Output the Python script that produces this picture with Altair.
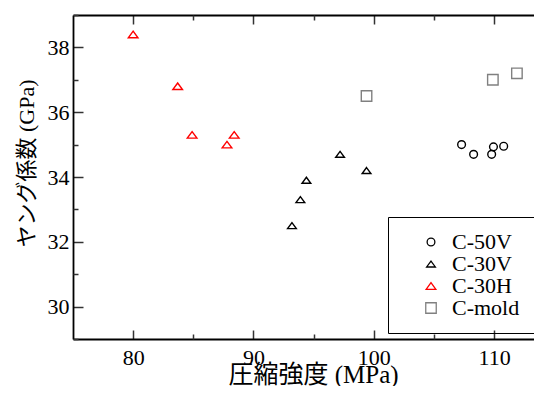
import altair as alt
import pandas as pd

series = ["C-50V", "C-30V", "C-30H", "C-mold"]
colors = ["#000000", "#000000", "#ff0000", "#808080"]

c50v_x = [107.3, 108.3, 109.8, 109.95, 110.8]
c50v_y = [35.0, 34.7, 34.7, 34.93, 34.95]
c30v_x = [93.2, 93.9, 94.4, 97.2, 99.4]
c30v_y = [32.5, 33.3, 33.9, 34.7, 34.2]
c30h_x = [80.0, 83.7, 84.9, 87.8, 88.4]
c30h_y = [38.4, 36.8, 35.3, 35.0, 35.3]
cmold_x = [99.4, 109.9, 111.9]
cmold_y = [36.5, 37.0, 37.2]

x_major = [80, 90, 100, 110]
x_minor = [85, 95, 105]
y_major = [30, 32, 34, 36, 38]
y_minor = [29, 31, 33, 35, 37, 39]

rows = []
for name, xs_, ys_ in [("C-50V", c50v_x, c50v_y), ("C-30V", c30v_x, c30v_y),
                       ("C-30H", c30h_x, c30h_y), ("C-mold", cmold_x, cmold_y)]:
    for a, b in zip(xs_, ys_):
        rows.append({"series": name, "x": a, "y": b})
df = pd.DataFrame(rows)

tri = "M0,-0.68L1,0.68L-1,0.68Z"
shapes = ["circle", tri, tri, "square"]
sizes = [60, 110, 110, 64]

FONT = "'Times New Roman', 'Liberation Serif', 'DejaVu Serif', serif"
TFONT = "'Times New Roman', 'Liberation Serif', 'Noto Sans CJK JP', serif"
xs = alt.Scale(domain=[75, 113.32], nice=False, zero=False)
ys = alt.Scale(domain=[29, 39], nice=False, zero=False)

def ax(orient, values, size, labels=False, domain=False, **kw):
    opts = dict(labelFont=FONT, labelFontSize=22, labelColor="#000000",
                titleFont=TFONT, titleFontSize=22, titleColor="#000000",
                titleFontWeight="normal", domainColor="#000000", domainWidth=1.8,
                tickColor="#333333", tickWidth=1.5)
    opts.update(kw)
    return alt.Axis(orient=orient, values=values, tickSize={"expr": str(-size)},
                    labels=labels, domain=domain, grid=False, **opts)

legend = alt.Legend(title=None, orient="none", legendX=315, legendY=202,
                    strokeColor="#000000", padding=14, symbolOffset=18,
                    labelOffset=10, rowPadding=0, symbolSize=50,
                    symbolStrokeWidth=1.3, labelFontSize=22, labelFont=FONT,
                    labelColor="#000000", symbolFillColor="transparent")

base = alt.Chart(df)

points = base.mark_point(filled=False, strokeWidth=1.4, opacity=1).encode(
    x=alt.X("x:Q", scale=xs, axis=ax("bottom", x_major, 9, labels=True, domain=True,
                                       title="圧縮強度 (MPa)", labelPadding=17,
                                       titleFontSize=25,
                                       titleX=240, titleY=23, titleBaseline="top",
                                       titleAlign="center")),
    y=alt.Y("y:Q", scale=ys, axis=ax("left", y_major, 10, labels=True, domain=True,
                                       title="ヤング係数 (GPa)", labelPadding=14,
                                       titleX=-47, titleY=148, titleBaseline="middle",
                                       titleAlign="center", titleAngle=-90)),
    color=alt.Color("series:N", scale=alt.Scale(domain=series, range=colors), legend=legend),
    shape=alt.Shape("series:N", scale=alt.Scale(domain=series, range=shapes), legend=legend),
    size=alt.Size("series:N", scale=alt.Scale(domain=series, range=sizes), legend=None),
)

inv = base.mark_point(opacity=0)
minor1 = inv.encode(
    x=alt.X("x:Q", scale=xs, axis=ax("bottom", x_minor, 5, title=None)),
    y=alt.Y("y:Q", scale=ys, axis=ax("left", y_minor, 5, title=None)),
)
top_major = inv.encode(
    x=alt.X("x:Q", scale=xs, axis=ax("top", x_major, 9, domain=True, title=None)),
    y=alt.Y("y:Q", scale=ys, axis=None),
)
top_minor = inv.encode(
    x=alt.X("x:Q", scale=xs, axis=ax("top", x_minor, 5, title=None)),
    y=alt.Y("y:Q", scale=ys, axis=None),
)

chart = alt.layer(points, minor1, top_major, top_minor).resolve_scale(
    x="shared", y="shared"
).resolve_axis(x="independent", y="independent").properties(
    width=461, height=324, autosize="none",
    padding={"left": 65, "top": 7, "right": 0, "bottom": 47},
    background="#ffffff",
).configure_view(stroke=None)

chart.save("out.html", embed_options={"renderer": "svg", "actions": False})
